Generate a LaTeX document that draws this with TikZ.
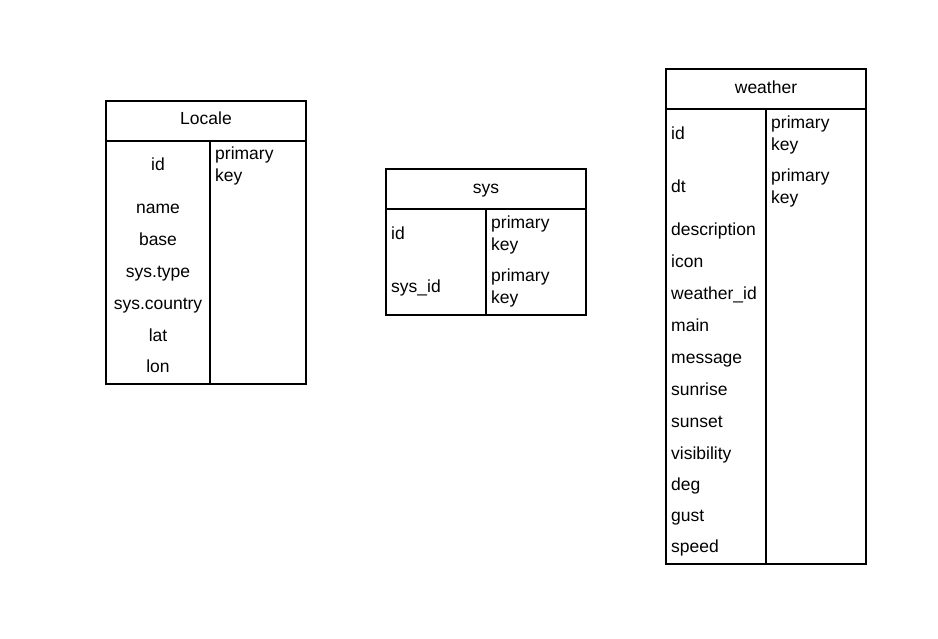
\documentclass[tikz,border=0pt]{standalone}
\usepackage{fontspec}
\setmainfont{Liberation Sans}
\begin{document}
\begin{tikzpicture}[x=1pt,y=-1pt,
  tbl/.style={draw=black,line width=1.7pt,inner sep=0pt},
  sep/.style={draw=black,line width=1.7pt},
  lbl/.style={inner sep=0pt,anchor=base,font=\fontsize{17.5}{22}\selectfont},
  lbw/.style={inner sep=0pt,anchor=base west,font=\fontsize{17.5}{22}\selectfont},
  pk/.style={inner sep=0pt,align=left,anchor=west,font=\fontsize{17.5}{22}\selectfont}]
\useasboundingbox (0,0) rectangle (938,638);
% Locale
\path[tbl] (106,101) rectangle (306,384);
\coordinate (lh1) at (106,141); \coordinate (lh2) at (306,141);
\coordinate (lv1) at (210,141); \coordinate (lv2) at (210,384);
\draw[sep] (lh1) -- (lh2); \draw[sep] (lv1) -- (lv2);
\node[lbl] (ltitle) at (206,124) {Locale};
\node[lbl] (lid) at (158,170) {id};
\node[lbl] (lname) at (158,213) {name};
\node[lbl] (lbase) at (158,245) {base};
\node[lbl] (ltype) at (158,277) {sys.type};
\node[lbl] (lcountry) at (158,309) {sys.country};
\node[lbl] (llat) at (158,341) {lat};
\node[lbl] (llon) at (158,372) {lon};
\node[pk] (lpk) at (215,166) {primary\\key};
% sys
\path[tbl] (386,169) rectangle (586,315);
\coordinate (sh1) at (386,209); \coordinate (sh2) at (586,209);
\coordinate (sv1) at (486,209); \coordinate (sv2) at (486,315);
\draw[sep] (sh1) -- (sh2); \draw[sep] (sv1) -- (sv2);
\node[lbl] (stitle) at (486,193) {sys};
\node[lbw] (sid) at (391,239) {id};
\node[lbw] (ssysid) at (391,292) {sys\_id};
\node[pk] (spk1) at (491,235) {primary\\key};
\node[pk] (spk2) at (491,288) {primary\\key};
% weather
\path[tbl] (666,69) rectangle (866,564);
\coordinate (wh1) at (666,109); \coordinate (wh2) at (866,109);
\coordinate (wv1) at (766,109); \coordinate (wv2) at (766,564);
\draw[sep] (wh1) -- (wh2); \draw[sep] (wv1) -- (wv2);
\node[lbl] (wtitle) at (766,93) {weather};
\node[lbw] (wid) at (671,139) {id};
\node[lbw] (wdt) at (671,192) {dt};
\node[lbw] (wdesc) at (671,235) {description};
\node[lbw] (wicon) at (671,267) {icon};
\node[lbw] (wwid) at (671,299) {weather\_id};
\node[lbw] (wmain) at (671,331) {main};
\node[lbw] (wmsg) at (671,363) {message};
\node[lbw] (wsunrise) at (671,395) {sunrise};
\node[lbw] (wsunset) at (671,427) {sunset};
\node[lbw] (wvis) at (671,459) {visibility};
\node[lbw] (wdeg) at (671,490) {deg};
\node[lbw] (wgust) at (671,521) {gust};
\node[lbw] (wspeed) at (671,552) {speed};
\node[pk] (wpk1) at (771,135) {primary\\key};
\node[pk] (wpk2) at (771,188) {primary\\key};
\end{tikzpicture}
\end{document}
